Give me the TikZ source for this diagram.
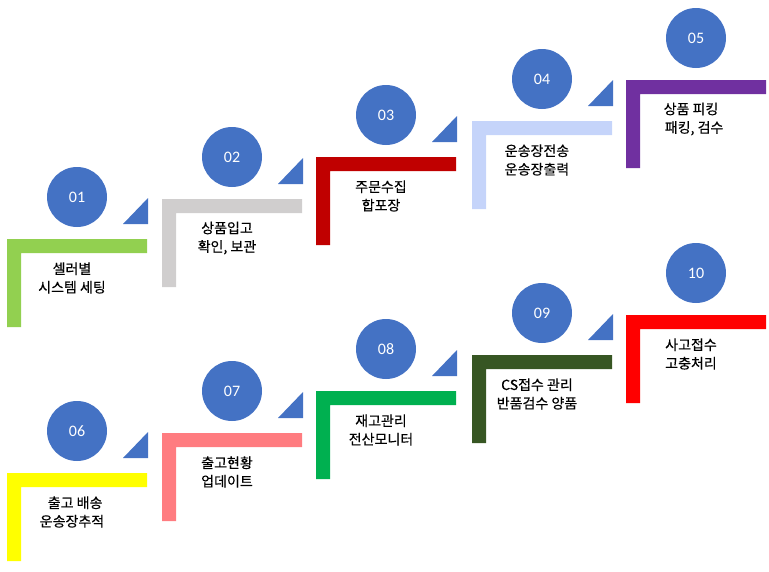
\documentclass[tikz,border=0pt]{standalone}
\usepackage{fontspec}
\setmainfont{Noto Sans CJK KR}[FakeBold=0.4]
\newfontfamily\numfont{Carlito}
\definecolor{kreis}{HTML}{4472C4}
\definecolor{hellgruen}{HTML}{92D050}
\definecolor{grau}{HTML}{D0CECE}
\definecolor{dunkelrot}{HTML}{C00000}
\definecolor{hellblau}{HTML}{C5D4FA}
\definecolor{lila}{HTML}{7030A0}
\definecolor{gelb}{HTML}{FFFF00}
\definecolor{lachs}{HTML}{FF7C80}
\definecolor{gruen}{HTML}{00B050}
\definecolor{dunkelgruen}{HTML}{375623}
\definecolor{rot}{HTML}{FF0000}
\tikzset{
	nummer/.style={circle,fill=kreis,minimum size=60pt,inner sep=0,text=white,font=\numfont\fontsize{16}{16}\selectfont},
	schritt/.style={align=center,inner sep=0,font=\fontsize{14}{18.5}\selectfont},
	dreieck/.style={fill=kreis},
}
\begin{document}
\begin{tikzpicture}[x=1pt,y=-1pt]
	\useasboundingbox (0,0) rectangle (769,571);
	\foreach \x/\y/\farbe/\nr/\spitze/\txt in {
		7/239/hellgruen/01/1/{셀러별\\시스템 세팅},
		162/199/grau/02/1/{상품입고\\확인, 보관},
		316/157/dunkelrot/03/1/{주문수집\\합포장},
		472/121/hellblau/04/1/{운송장전송\\운송장출력},
		626/80/lila/05/0/{상품 피킹\\\ \ 패킹, 검수},
		7/473/gelb/06/1/{\ \ 출고 배송\\운송장추적},
		162/433/lachs/07/1/{출고현황\\업데이트},
		316/391/gruen/08/1/{재고관리\\전산모니터},
		472/355/dunkelgruen/09/1/{CS접수 관리\\반품검수 양품},
		626/315/rot/10/0/{사고접수\\고충처리}%
	}{
		\fill[\farbe] (\x,\y) -- ++(140,0) -- ++(0,14) -- ++(-126,0) -- ++(0,74) -- ++(-14,0) -- cycle;
		\node[nummer] (Kreis\nr) at (\x+70,\y-42) {\nr};
		\node[schritt] (Text\nr) at (\x+65,\y+39) {\txt};
		\ifnum\spitze=1
			\fill[dreieck] (\x+116,\y-15) -- ++(25,0) -- ++(0,-26) -- cycle;
		\fi
	}
\end{tikzpicture}
\end{document}
